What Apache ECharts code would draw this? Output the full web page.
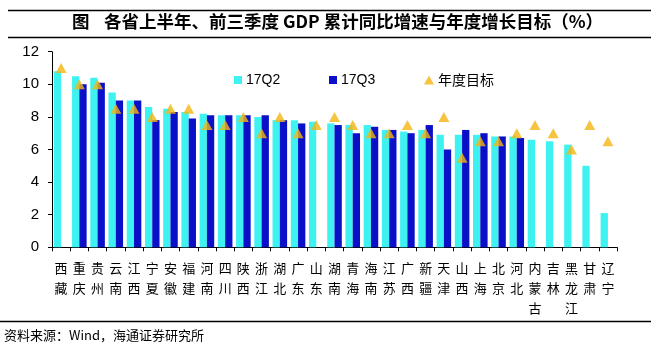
<!DOCTYPE html>
<html>
<head>
<meta charset="utf-8">
<script src="https://cdn.jsdelivr.net/npm/echarts@6/dist/echarts.min.js"></script>
<style>
html,body{margin:0;padding:0;background:#fff;}
#chart{width:659px;height:349px;}
</style>
</head>
<body>
<div id="chart"></div>
<script>
var provinces = ['西藏','重庆','贵州','云南','江西','宁夏','安徽','福建','河南','四川','陕西','浙江','湖北','广东','山东','湖南','青海','海南','江苏','广西','新疆','天津','山西','上海','北京','河北','内蒙古','吉林','黑龙江','甘肃','辽宁'];
var q2 = [10.8,10.5,10.4,9.5,9.0,8.6,8.5,8.3,8.2,8.1,8.1,8.0,7.8,7.8,7.7,7.6,7.5,7.5,7.2,7.1,7.2,6.9,6.9,6.9,6.8,6.8,6.6,6.5,6.3,5.0,2.1];
var q3 = [null,10.0,10.1,9.0,9.0,7.8,8.3,7.9,8.1,8.1,8.1,8.1,7.8,7.6,null,7.5,7.0,7.4,7.2,7.0,7.5,6.0,7.2,7.0,6.8,6.7,null,null,null,null,null];
var target = [11,10,10,8.5,8.5,8,8.5,8.5,7.5,7.5,8,7,8,7,7.5,8,7.5,7,7,7.5,7,8,5.5,6.5,6.5,7,7.5,7,6,7.5,6.5];
var yTicks = [0,2,4,6,8,10,12];
var seriesNames = ['17Q2','17Q3','年度目标'];

var FONT = 'Liberation Sans, Arial, Noto Sans CJK SC, sans-serif';
var CJK = 'Noto Sans CJK SC, sans-serif';
var C_Q2 = '#3EF2F2', C_Q3 = '#0A10C8', C_T = '#F4B512';

var chart = echarts.init(document.getElementById('chart'));
function legendAt(name, left, icon, w, h) {
  return {
    data: [{name: name, icon: icon}],
    left: left, top: 68,
    itemWidth: w, itemHeight: h, itemGap: 0,
    textStyle: {fontSize: 14, color: '#000', fontFamily: name === '年度目标' ? CJK : FONT, padding: [0,0,0,-1]},
    selectedMode: false
  };
}
chart.setOption({
  animation: false,
  backgroundColor: '#fff',
  grid: {left: 52, right: 42, top: 51.7, bottom: 101.7, containLabel: false},
  legend: [
    legendAt(seriesNames[0], 229, 'rect', 8, 8),
    legendAt(seriesNames[1], 324, 'rect', 8, 8),
    legendAt(seriesNames[2], 419, 'triangle', 10, 9)
  ],
  xAxis: {
    type: 'category',
    data: provinces,
    axisLine: {lineStyle: {color: '#000', width: 1}},
    axisTick: {show: true, inside: false, length: 4, alignWithLabel: false, lineStyle: {color: '#000'}},
    axisLabel: {
      interval: 0, margin: 11, color: '#000', fontSize: 13, lineHeight: 20, fontFamily: CJK,
      formatter: function (v) { return v.split('').join('\n'); }
    }
  },
  yAxis: {
    type: 'value', min: yTicks[0], max: yTicks[yTicks.length-1], interval: 2,
    splitLine: {show: false},
    axisLine: {show: true, lineStyle: {color: '#000', width: 1}},
    axisTick: {show: true, length: 4, lineStyle: {color: '#000'}},
    axisLabel: {color: '#000', fontSize: 15, fontFamily: FONT, margin: 13}
  },
  series: [
    {name: seriesNames[0], type: 'bar', data: q2, itemStyle: {color: C_Q2}, barGap: '0%', barCategoryGap: '20%'},
    {name: seriesNames[1], type: 'bar', data: q3, itemStyle: {color: C_Q3}, barGap: '0%', barCategoryGap: '20%'},
    {name: seriesNames[2], type: 'scatter', data: target, symbol: 'triangle', symbolSize: [11, 10], itemStyle: {color: C_T}, z: 5}
  ],
  graphic: [
    {type: 'line', shape: {x1: 8, y1: 10.5, x2: 651, y2: 10.5}, style: {stroke: '#000', lineWidth: 1.3}},
    {type: 'line', shape: {x1: 8, y1: 37.5, x2: 651, y2: 37.5}, style: {stroke: '#000', lineWidth: 1.3}},
    {type: 'text', left: 72, top: 13, style: {text: '图', font: 'bold 17.5px ' + CJK, fill: '#000'}},
    {type: 'text', left: 104, top: 13, style: {text: '各省上半年、前三季度 GDP 累计同比增速与年度增长目标（%）', font: 'bold 17.5px ' + CJK, fill: '#000'}},
    {type: 'line', shape: {x1: 0, y1: 321.5, x2: 651, y2: 321.5}, style: {stroke: '#000', lineWidth: 1.3}},
    {type: 'text', left: 4, top: 329, style: {text: '资料来源：Wind，海通证券研究所', font: '13px ' + CJK, fill: '#000'}}
  ]
});
</script>
</body>
</html>
